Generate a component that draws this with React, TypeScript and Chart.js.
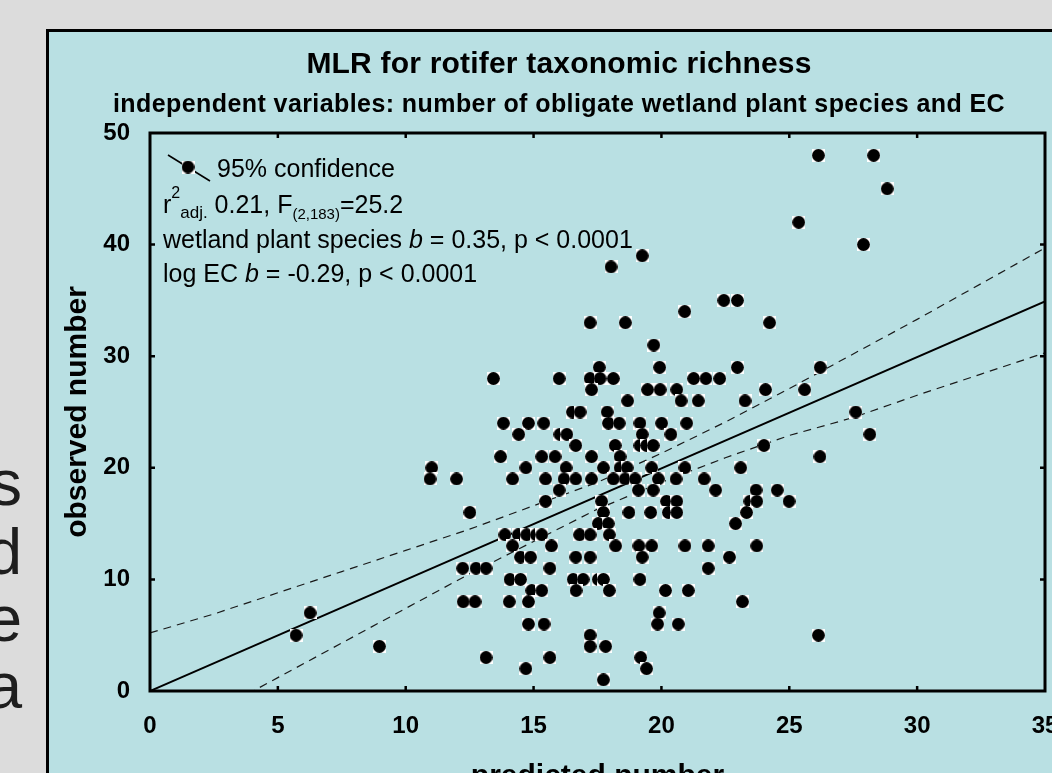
import React, { useEffect, useRef } from "react";
import { Chart, registerables } from "chart.js";

Chart.register(...registerables);

const FONT = "'Liberation Sans', Arial, Helvetica, sans-serif";

// observed number (y) vs predicted number (x)
const predicted = [
  26.14, 28.3,
  28.83,
  25.37,
  27.9,
  19.25,
  18.03,
  22.44, 22.97,
  20.91,
  17.21, 18.59, 24.23,
  19.7,
  17.57, 19.93, 22.97, 26.21,
  13.43, 16.0, 17.21, 17.6, 18.12, 21.26, 21.74, 22.28,
  17.27, 19.46, 19.95, 20.6, 24.07, 25.6,
  18.68, 20.77, 21.44, 23.27,
  16.52, 16.82, 17.88, 27.6,
  13.82, 14.8, 15.4, 17.93, 18.35, 19.16, 20.01, 20.99,
  14.42, 16.03, 16.3, 19.25, 20.37, 28.15,
  16.65, 18.19, 19.16, 19.42, 19.68, 24.01,
  13.71, 15.32, 15.84, 17.27, 18.38, 26.2,
  11.02, 14.7, 16.27, 17.73, 18.38, 18.66, 19.62, 20.92, 23.1,
  10.95, 11.99, 14.18, 15.47, 16.19, 16.65, 17.27, 18.12, 18.58, 18.97, 19.88, 20.57, 21.67,
  16.0, 19.1, 19.68, 22.12, 23.7, 24.53,
  15.47, 17.66, 20.2, 20.6, 23.46, 23.73, 24.99,
  12.51, 17.73, 18.73, 19.58, 20.27, 20.6, 23.33,
  17.53, 17.92, 22.9,
  13.88, 14.4, 14.73, 15.1, 15.32, 16.8, 17.21, 17.96,
  14.18, 15.7, 18.21, 19.12, 19.62, 20.92, 21.83, 23.73,
  14.49, 14.88, 16.65, 17.21, 19.25, 22.66,
  12.23, 12.75, 13.14, 15.64, 21.83,
  14.08, 14.49, 16.55, 16.94, 17.53, 17.73, 19.16,
  14.93, 15.32, 16.66, 17.96, 20.16, 21.05,
  12.25, 12.71, 14.05, 14.8, 23.17,
  6.26, 19.91,
  14.8, 15.41, 19.85, 20.66,
  5.71, 17.21, 26.14,
  8.97, 17.21, 17.82,
  13.14, 15.64, 19.19,
  14.7, 19.42,
  17.73,
];

const observed = [
  48, 48,
  45,
  42,
  40,
  39,
  38,
  35, 35,
  34,
  33, 33, 33,
  31,
  29, 29, 29, 29,
  28, 28, 28, 28, 28, 28, 28, 28,
  27, 27, 27, 27, 27, 27,
  26, 26, 26, 26,
  25, 25, 25, 25,
  24, 24, 24, 24, 24, 24, 24, 24,
  23, 23, 23, 23, 23, 23,
  22, 22, 22, 22, 22, 22,
  21, 21, 21, 21, 21, 21,
  20, 20, 20, 20, 20, 20, 20, 20, 20,
  19, 19, 19, 19, 19, 19, 19, 19, 19, 19, 19, 19, 19,
  18, 18, 18, 18, 18, 18,
  17, 17, 17, 17, 17, 17, 17,
  16, 16, 16, 16, 16, 16, 16,
  15, 15, 15,
  14, 14, 14, 14, 14, 14, 14, 14,
  13, 13, 13, 13, 13, 13, 13, 13,
  12, 12, 12, 12, 12, 12,
  11, 11, 11, 11, 11,
  10, 10, 10, 10, 10, 10, 10,
  9, 9, 9, 9, 9, 9,
  8, 8, 8, 8, 8,
  7, 7,
  6, 6, 6, 6,
  5, 5, 5,
  4, 4, 4,
  3, 3, 3,
  2, 2,
  1,
];

// regression line
const fitX = [0, 35];
const fitY = [0, 34.9];

// 95% confidence band
const bandX = [0, 2.5, 5, 7.5, 10, 12.5, 15, 17.5, 20, 22.5, 25, 27.5, 30, 32.5, 35];
const bandUpper = [5.2, 6.9, 8.8, 10.7, 12.6, 14.5, 16.6, 18.7, 21.3, 24.1, 27.1, 30.2, 33.3, 36.5, 39.7];
const bandLower = [-5.2, -1.9, 1.2, 4.3, 7.4, 10.5, 13.4, 16.3, 18.7, 20.9, 22.9, 24.5, 26.5, 28.4, 30.3];

const xTickValues = [0, 5, 10, 15, 20, 25, 30, 35];
const yTickValues = [0, 10, 20, 30, 40, 50];

const titleText = "MLR for rotifer taxonomic richness";
const subtitleText = "independent variables: number of obligate wetland plant species and EC";
const xTitleText = "predicted number";
const yTitleText = "observed number";
const legendText = "95% confidence";
const sideLetters = ["s", "d", "e", "a"];

function makeMarker(): HTMLCanvasElement {
  const c = document.createElement("canvas");
  c.width = 13;
  c.height = 13;
  const g = c.getContext("2d")!;
  g.fillStyle = "#ffffff";
  g.fillRect(0, 0, 13, 13);
  g.fillStyle = "#000000";
  g.beginPath();
  g.arc(6.5, 6.5, 6.4, 0, Math.PI * 2);
  g.fill();
  return c;
}

type Run = { text: string; font: string; dy?: number };

function drawRuns(ctx: CanvasRenderingContext2D, x: number, y: number, runs: Run[]) {
  let cx = x;
  for (const r of runs) {
    ctx.font = r.font;
    ctx.fillText(r.text, cx, y + (r.dy || 0));
    cx += ctx.measureText(r.text).width;
  }
}

export default function App() {
  const ref = useRef<HTMLCanvasElement | null>(null);

  useEffect(() => {
    const canvas = ref.current;
    if (!canvas) return;
    const marker = makeMarker();

    const decor = {
      id: "decor",
      afterDraw(chart: any) {
        const { ctx, chartArea: a, scales } = chart;
        const xs = scales.x;
        const ys = scales.y;
        ctx.save();
        // frame
        ctx.strokeStyle = "#000";
        ctx.lineWidth = 3;
        ctx.strokeRect(a.left, a.top, a.right - a.left, a.bottom - a.top);
        // inward ticks
        ctx.lineWidth = 2.5;
        ctx.beginPath();
        for (const v of xTickValues) {
          const px = xs.getPixelForValue(v);
          if (px <= a.left + 1 || px >= a.right - 1) continue;
          ctx.moveTo(px, a.bottom);
          ctx.lineTo(px, a.bottom - 5);
          ctx.moveTo(px, a.top);
          ctx.lineTo(px, a.top + 5);
        }
        for (const v of yTickValues) {
          const py = ys.getPixelForValue(v);
          if (py <= a.top + 1 || py >= a.bottom - 1) continue;
          ctx.moveTo(a.left, py);
          ctx.lineTo(a.left + 5, py);
          ctx.moveTo(a.right, py);
          ctx.lineTo(a.right - 5, py);
        }
        ctx.stroke();

        // titles
        ctx.fillStyle = "#000";
        ctx.textAlign = "center";
        ctx.textBaseline = "alphabetic";
        ctx.font = `bold 30px ${FONT}`;
        (ctx as any).letterSpacing = "0.2px";
        ctx.fillText(titleText, 559, 73);
        ctx.font = `bold 25px ${FONT}`;
        (ctx as any).letterSpacing = "0.42px";
        ctx.fillText(subtitleText, 559, 112);
        (ctx as any).letterSpacing = "0px";

        // legend symbol
        ctx.lineWidth = 1.6;
        ctx.beginPath();
        ctx.moveTo(168, 155);
        ctx.lineTo(210, 181);
        ctx.stroke();
        ctx.drawImage(marker, 188 - 6.5, 167 - 6.5);

        // annotation text
        ctx.textAlign = "left";
        const reg = `25px ${FONT}`;
        const ita = `italic 25px ${FONT}`;
        ctx.font = reg;
        ctx.fillText(legendText, 217, 177);
        drawRuns(ctx, 163, 213, [
          { text: "r", font: reg },
          { text: "2", font: `16px ${FONT}`, dy: -15 },
          { text: "adj.", font: `17px ${FONT}`, dy: 5 },
          { text: " 0.21, F", font: reg },
          { text: "(2,183)", font: `15px ${FONT}`, dy: 6 },
          { text: "=25.2", font: reg },
        ]);
        drawRuns(ctx, 163, 248, [
          { text: "wetland plant species ", font: reg },
          { text: "b", font: ita },
          { text: " = 0.35, p < 0.0001", font: reg },
        ]);
        drawRuns(ctx, 163, 282, [
          { text: "log EC ", font: reg },
          { text: "b", font: ita },
          { text: " = -0.29, p < 0.0001", font: reg },
        ]);
        ctx.restore();
      },
    };

    const chart = new Chart(canvas, {
      type: "scatter",
      data: {
        datasets: [
          {
            label: "observed",
            data: predicted.map((p, i) => ({ x: p, y: observed[i] })),
            pointStyle: marker as any,
            pointRadius: 6,
            order: 0,
          },
          {
            label: "fit",
            data: fitX.map((v, i) => ({ x: v, y: fitY[i] })),
            showLine: true,
            borderColor: "#000",
            borderWidth: 2,
            pointRadius: 0,
            order: 1,
          },
          {
            label: "upper 95%",
            data: bandX.map((v, i) => ({ x: v, y: bandUpper[i] })),
            showLine: true,
            borderColor: "#1a1a1a",
            borderWidth: 1.2,
            borderDash: [8, 6],
            pointRadius: 0,
            order: 1,
          },
          {
            label: "lower 95%",
            data: bandX.map((v, i) => ({ x: v, y: bandLower[i] })),
            showLine: true,
            borderColor: "#1a1a1a",
            borderWidth: 1.2,
            borderDash: [8, 6],
            pointRadius: 0,
            order: 1,
          },
        ],
      },
      options: {
        responsive: false,
        maintainAspectRatio: false,
        animation: false,
        events: [],
        layout: { padding: { top: 133, right: 55, bottom: 0, left: 0 } },
        plugins: {
          legend: { display: false },
          tooltip: { enabled: false },
          title: { display: false },
        },
        scales: {
          x: {
            type: "linear",
            min: 0,
            max: 35,
            afterBuildTicks: (s: any) => {
              s.ticks = xTickValues.map((v) => ({ value: v }));
            },
            afterFit: (s: any) => {
              s.height = 109;
              s.paddingLeft = 0;
              s.paddingRight = 0;
            },
            grid: { display: false },
            border: { display: false },
            ticks: {
              font: { family: FONT, size: 24, weight: "bold" },
              color: "#000",
              padding: 13,
              maxRotation: 0,
              autoSkip: false,
            },
            title: {
              display: true,
              text: xTitleText,
              font: { family: FONT, size: 30, weight: "bold" },
              color: "#000",
              padding: { top: 0, bottom: 5 },
            },
          },
          y: {
            type: "linear",
            min: 0,
            max: 50,
            afterBuildTicks: (s: any) => {
              s.ticks = yTickValues.map((v) => ({ value: v }));
            },
            afterFit: (s: any) => {
              s.width = 150;
              s.paddingTop = 0;
              s.paddingBottom = 0;
            },
            grid: { display: false },
            border: { display: false },
            ticks: {
              font: { family: FONT, size: 24, weight: "bold" },
              color: "#000",
              padding: 12,
              autoSkip: false,
            },
            title: {
              display: true,
              text: yTitleText,
              font: { family: FONT, size: 30, weight: "bold" },
              color: "#000",
              padding: { top: 60, bottom: 0 },
            },
          },
        },
      },
      plugins: [decor],
    } as any);

    return () => chart.destroy();
  }, []);

  const letterTops = [452, 521, 588, 655];

  return (
    <div
      style={{
        position: "fixed",
        left: 0,
        top: 0,
        width: 1052,
        height: 773,
        overflow: "hidden",
        background: "#dcdcdc",
      }}
    >
      {sideLetters.map((ch, i) => (
        <div
          key={i}
          style={{
            position: "absolute",
            left: -100,
            width: 122,
            top: letterTops[i],
            textAlign: "right",
            fontFamily: FONT,
            fontSize: 64,
            lineHeight: "62px",
            color: "#1e1e1e",
          }}
        >
          {ch}
        </div>
      ))}
      <div
        style={{
          position: "absolute",
          left: 46,
          top: 29,
          width: 1100,
          height: 800,
          background: "#b9e0e3",
          borderTop: "3px solid #000",
          borderLeft: "3px solid #000",
        }}
      />
      <canvas
        ref={ref}
        width={1100}
        height={800}
        style={{ position: "absolute", left: 0, top: 0, width: 1100, height: 800 }}
      />
    </div>
  );
}
